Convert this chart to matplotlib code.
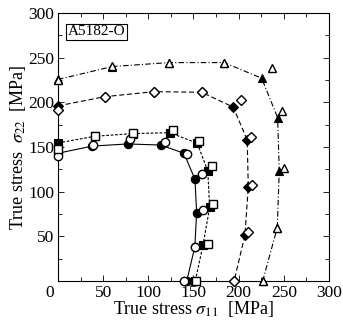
import matplotlib
matplotlib.use("Agg")
import matplotlib.pyplot as plt
from matplotlib.ticker import MultipleLocator

plt.rcParams['font.family'] = ['Liberation Serif', 'DejaVu Serif']
plt.rcParams['mathtext.fontset'] = 'stix'

# --- data (MPa) ---
# circles: solid line, model (filled) and experiment (open)
circ_model_x = [0, 38, 77, 113.7, 139.5, 151.7, 153.5, 151.5, 142.5]
circ_model_y = [143, 151, 153.4, 152.2, 143, 113.8, 76.5, 38, 0]
circ_exp_x = [0, 38.4, 79.7, 118.5, 142.5, 159, 160.2, 151.7, 140]
circ_exp_y = [140, 152.2, 158.6, 156, 142.2, 119.4, 79.5, 37.7, 0]

# squares: short dashed line
sq_model_x = [0, 41, 83, 124, 154.2, 165.8, 168, 160.5, 152]
sq_model_y = [154.5, 162, 165, 166, 154.1, 123.5, 82.5, 40, 0]
sq_exp_x = [0, 41, 83.4, 127.6, 156.4, 170.6, 171.9, 166.4, 152.8]
sq_exp_y = [148, 162.7, 165.5, 169, 156.7, 128.5, 85.9, 41, 0]

# diamonds: dashed line
dia_model_x = [0, 52, 106.6, 159, 194.1, 209.5, 210.7, 207, 195]
dia_model_y = [196, 206.3, 211.9, 211.2, 194.6, 157.8, 105.6, 51.5, 0]
dia_exp_x = [0, 52, 106.6, 159.1, 202.6, 213.3, 214.4, 210.7, 194.8]
dia_exp_y = [191, 206.3, 211.9, 211.2, 202.6, 161.5, 107.5, 55.2, 0]

# triangles: dash-dot line
tri_model_x = [0, 60.1, 122.9, 183.8, 225.5, 243.2, 245, 242.8, 226.6]
tri_model_y = [225.5, 240, 244.4, 244.4, 227, 182.8, 123.5, 59.7, 0]
tri_exp_x = [0, 60.1, 122.9, 183.8, 236.6, 247.6, 250.2, 242.8, 226.6]
tri_exp_y = [224.7, 240.7, 244.4, 244.4, 238.1, 190.3, 126.2, 59.7, 0]

ticks = [0, 50, 100, 150, 200, 250, 300]
label_text = "A5182-O"

fig = plt.figure(figsize=(3.43, 3.22), dpi=100)
ax = fig.add_axes([0.169, 0.127, 0.790, 0.833])

series = [
    (circ_model_x, circ_model_y, circ_exp_x, circ_exp_y, 'o', '-', 6.0),
    (sq_model_x, sq_model_y, sq_exp_x, sq_exp_y, 's', (0, (2.5, 1.5)), 5.2),
    (dia_model_x, dia_model_y, dia_exp_x, dia_exp_y, 'D', (0, (4.5, 2.5)), 5.2),
    (tri_model_x, tri_model_y, tri_exp_x, tri_exp_y, '^', (0, (5, 2, 1, 2)), 6.2),
]
for mx, my, ex, ey, mk, ls, ms in series:
    ax.plot(mx, my, color='black', lw=0.8, ls=ls, marker=mk, ms=ms,
            mfc='black', mec='black', mew=0.8, zorder=2, clip_on=False)
    ax.plot(ex, ey, ls='none', marker=mk, ms=ms, mfc='white', mec='black',
            mew=1.0, zorder=3, clip_on=False)

ax.set_xlim(0, 300)
ax.set_ylim(0, 300)
ax.set_xticks(ticks)
ax.set_yticks(ticks)
ax.set_xticklabels([''] + [str(t) for t in ticks[1:]])
ax.set_yticklabels([''] + [str(t) for t in ticks[1:]])
ax.xaxis.set_minor_locator(MultipleLocator(25))
ax.yaxis.set_minor_locator(MultipleLocator(25))
ax.tick_params(which='both', direction='in', top=True, right=True,
               labelsize=12.5, width=0.6, pad=2.5)
ax.tick_params(which='major', length=4)
ax.tick_params(which='minor', length=3)
for s in ax.spines.values():
    s.set_linewidth(0.8)

ax.annotate('0', xy=(-9, 0), xycoords=('data', 'axes fraction'),
            xytext=(0, -2.5), textcoords='offset points',
            ha='center', va='top', fontsize=12.5)

ax.set_xlabel(r'True stress $\sigma_{\rm 11}$  [MPa]', fontsize=13, labelpad=-1)
ax.set_ylabel(r'True stress  $\sigma_{\rm 22}$  [MPa]', fontsize=13, labelpad=0)

ax.text(0.035, 0.953, label_text, transform=ax.transAxes, fontsize=11,
        ha='left', va='top',
        bbox=dict(boxstyle='square,pad=0.12', fc='white', ec='black', lw=0.8))

fig.savefig('out.png', dpi=100)
